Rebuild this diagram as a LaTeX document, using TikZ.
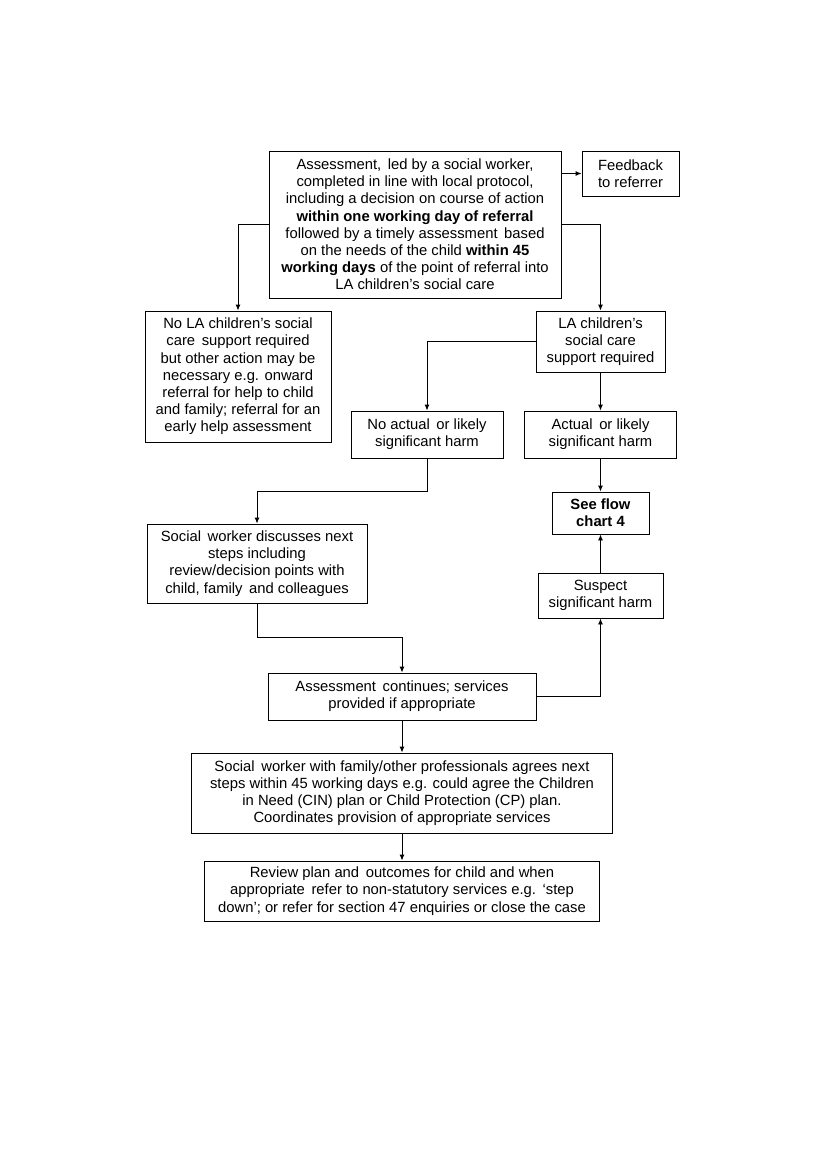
\documentclass[tikz,border=0pt]{standalone}
\usepackage{fontspec}
\setmainfont{Liberation Sans}
\usepackage{tikz}
\usetikzlibrary{calc,arrows.meta}
\tikzstyle{box}=[draw,line width=0.9pt,align=center,inner sep=0pt,
  font=\fontsize{14.8}{17.2}\selectfont]
\tikzstyle{link}=[->,line width=0.9pt,>={Latex[length=6pt,width=5pt]}]

\begin{document}
\begin{tikzpicture}[x=1pt,y=-1pt]
    \useasboundingbox (0,0) rectangle (827,1169);

    % Top of the chart
    \node[box,minimum width=292,minimum height=147] (assess) at (415,224.5)
        {Assessment,\ \,led by a social worker,\\
         completed in line with local protocol,\\
         including a decision on course of action\\
         \textbf{within one working day of referral}\\
         followed by a timely assessment\ \,based\\
         on the needs of the child \textbf{within 45}\\
         \textbf{working days} of the point of referral into\\
         LA children's social care};
    \node[box,minimum width=97,minimum height=45] (feedback) at (630.5,173.5)
        {Feedback\\to referrer};
    \draw[link] (assess.east |- feedback) -- (feedback);

    % First split
    \node[box,minimum width=186,minimum height=131] (noLA) at (238,376.5)
        {No LA children's social\\
         care\ \,support required\\
         but other action may be\\
         necessary e.g. onward\\
         referral for help to child\\
         and family; referral for an\\
         early help assessment};
    \node[box,minimum width=129,minimum height=61] (LA) at (600.5,341.5)
        {LA children's\\social care\\support required};
    \draw[link] (assess.west) -| (noLA.north);
    \draw[link] (assess.east) -| (LA.north);

    % Harm or no harm
    \node[box,minimum width=152,minimum height=47] (noharm) at (427,434.5)
        {No actual\ \,or likely\\significant harm};
    \node[box,minimum width=152,minimum height=47] (harm) at (600.5,434.5)
        {Actual\ \,or likely\\significant harm};
    \draw[link] (LA.west) -| (noharm.north);
    \draw[link] (LA.south) -- (harm.north);

    \node[box,minimum width=97,minimum height=42] (seeflow) at (600.5,513)
        {\textbf{See flow}\\\textbf{chart 4}};
    \draw[link] (harm.south) -- (seeflow.north);

    \node[box,minimum width=220,minimum height=79] (sw) at (257,563.5)
        {Social\ \,worker discusses next\\
         steps including\\
         review/decision points with\\
         child, family\ \,and colleagues};
    \draw[link] (noharm.south) -- ++(0,33) -| (sw.north);

    \node[box,minimum width=125,minimum height=45] (suspect) at (600.5,595.5)
        {Suspect\\significant harm};
    \draw[link] (suspect.north) -- (seeflow.south);

    % Bottom of the chart
    \node[box,minimum width=268,minimum height=47] (cont) at (402,696.5)
        {Assessment\ \,continues; services\\provided if appropriate};
    \draw[link] (sw.south) -- ++(0,34) -| (cont.north);
    \draw[link] (cont.east) -| (suspect.south);

    \node[box,minimum width=421,minimum height=80] (agree) at (402,793)
        {Social\ \,worker with family/other professionals agrees next\\
         steps within 45 working days e.g. could agree the Children\\
         in Need (CIN) plan or Child Protection (CP) plan.\\
         Coordinates provision of appropriate services};
    \draw[link] (cont.south) -- (agree.north);

    \node[box,minimum width=395,minimum height=60] (review) at (402,891)
        {Review plan and\ \,outcomes for child and when\\
         appropriate\ \,refer to non-statutory services e.g.\ \,`step\\
         down'; or refer for section 47 enquiries or close the case};
    \draw[link] (agree.south) -- (review.north);
\end{tikzpicture}
\end{document}
